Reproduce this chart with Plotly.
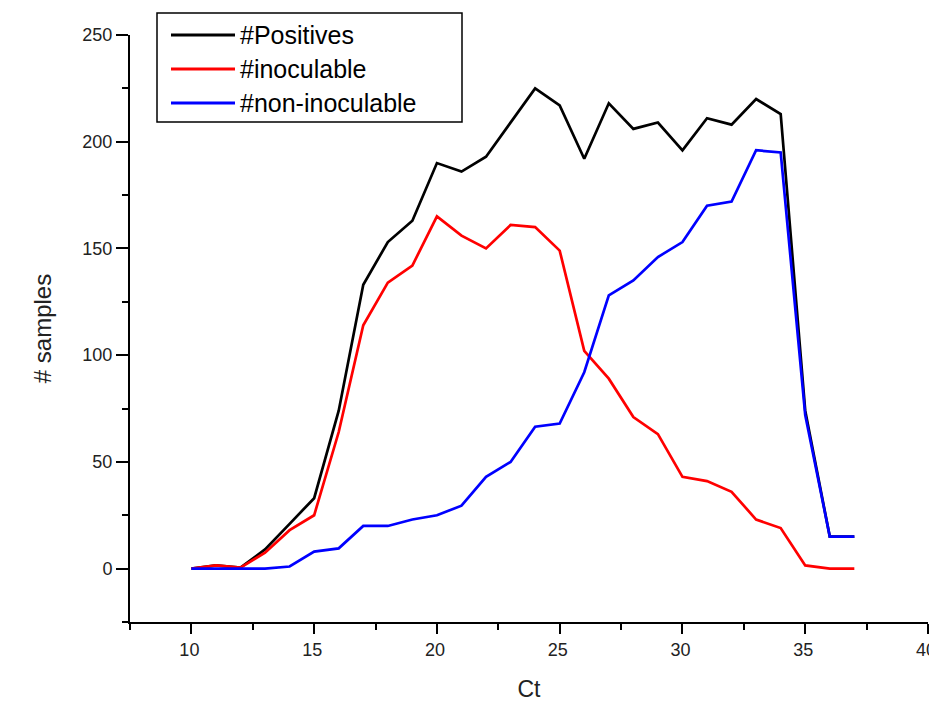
import plotly.graph_objects as go

ct = list(range(10, 38))
positives = [0, 1.5, 0.5, 9, 21, 33, 74, 133, 153, 163, 190, 186, 193, 209, 225, 217,
             192, 218, 206, 209, 196, 211, 208, 220, 213, 74, 15, 15]
inoculable = [0, 1.5, 0.5, 7.5, 18, 25, 64, 114, 134, 142, 165, 156, 150, 161, 160, 149,
              102, 89, 71, 63, 43, 41, 36, 23, 19, 1.5, 0, 0]
non_inoculable = [0, 0, 0, 0, 1, 8, 9.5, 20, 20, 23, 25, 29.5, 43, 50, 66.5, 68,
                  92, 128, 135, 146, 153, 170, 172, 196, 195, 72, 15, 15]

series_names = ["#Positives", "#inoculable", "#non-inoculable"]
series_colors = ["#000000", "#ff0000", "#0000ff"]
series_values = [positives, inoculable, non_inoculable]

# page body has an 8px margin, so the figure starts at (8, 8) in the window
OFF = 8
W, H = 937 - OFF, 711 - 2 * OFF
# plot area in window pixels: x 130..928, y 35..622
L, R, T, B = 130 - OFF, (OFF + W) - 928, 35 - OFF, (OFF + H) - 622
PW, PH = W - L - R, H - T - B


def px2paper(px, py):
    # px, py are window pixel coordinates
    return (px - OFF - L) / PW, (H - B - (py - OFF)) / PH


fig = go.Figure()
for name, col, vals in zip(series_names, series_colors, series_values):
    fig.add_trace(go.Scatter(x=ct, y=vals, mode="lines", name=name,
                             line=dict(color=col, width=2.7), showlegend=False))

font_family = "Liberation Sans, Arial, sans-serif"

x0, y0 = px2paper(157, 13)
x1, y1 = px2paper(462, 122)
shapes = [dict(type="rect", xref="paper", yref="paper", x0=x0, y0=y1, x1=x1, y1=y0,
               line=dict(color="black", width=1.5), fillcolor="white", layer="above")]
annotations = []
rows_py = [35, 69, 103]
for name, col, py in zip(series_names, series_colors, rows_py):
    ax0, ay = px2paper(171, py)
    ax1, _ = px2paper(235, py)
    shapes.append(dict(type="line", xref="paper", yref="paper", x0=ax0, x1=ax1, y0=ay, y1=ay,
                       line=dict(color=col, width=3), layer="above"))
    tx, _ = px2paper(238, py)
    annotations.append(dict(xref="paper", yref="paper", x=tx, y=ay, text=name, showarrow=False,
                            xanchor="left", yanchor="middle",
                            font=dict(family=font_family, size=25, color="black")))

fig.update_layout(
    width=W, height=H,
    margin=dict(l=L, r=R, t=T, b=B, autoexpand=False),
    paper_bgcolor="white", plot_bgcolor="white",
    font=dict(family=font_family, color="#222"),
    shapes=shapes, annotations=annotations,
    showlegend=False,
)
fig.update_xaxes(
    range=[7.5, 40], tickmode="array", tickvals=[10, 15, 20, 25, 30, 35, 40],
    ticks="outside", ticklen=10, tickwidth=1.5, tickcolor="black",
    showline=True, linecolor="black", linewidth=2, showgrid=False, zeroline=False,
    tickfont=dict(size=18, color="#222"), ticklabeloverflow="allow", automargin=False,
    ticklabelshift=-2,
    minor=dict(ticks="outside", ticklen=6, tickwidth=1.5, tickcolor="black",
               tickmode="array", tickvals=[7.5, 12.5, 17.5, 22.5, 27.5, 32.5, 37.5], showgrid=False),
    title=dict(text="Ct", font=dict(size=23, color="#222"), standoff=22),
)
fig.update_yaxes(
    range=[-25, 250], tickmode="array", tickvals=[0, 50, 100, 150, 200, 250],
    ticks="outside", ticklen=12, tickwidth=1.5, tickcolor="black",
    showline=True, linecolor="black", linewidth=2, showgrid=False, zeroline=False,
    tickfont=dict(size=18, color="#222"), automargin=False,
    minor=dict(ticks="outside", ticklen=6, tickwidth=1.5, tickcolor="black",
               tickmode="array", tickvals=[-25, 25, 75, 125, 175, 225], showgrid=False),
    title=dict(text="# samples", font=dict(size=24, color="#222"), standoff=24),
)

fig.write_html("out.html",
               post_script="document.documentElement.style.overflow='hidden';"
                           "document.body.style.overflow='hidden';")
